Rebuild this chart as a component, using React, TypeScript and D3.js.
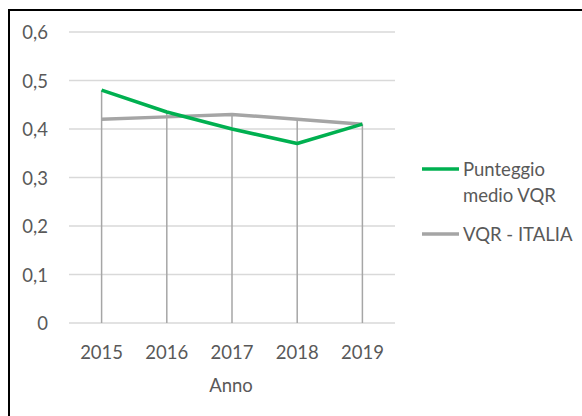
import * as d3 from "d3";

const years = ["2015", "2016", "2017", "2018", "2019"];
const punteggio = [0.48, 0.435, 0.4, 0.37, 0.41];
const italia = [0.42, 0.425, 0.43, 0.42, 0.41];
const yTicks = [0, 0.1, 0.2, 0.3, 0.4, 0.5, 0.6];

const W = 582;
const H = 416;
const FONT = "Lato, 'Open Sans', sans-serif";
const TEXT = "#595959";

export default function App() {
  const x = d3.scaleBand().domain(years).range([69, 395]);
  const y = d3.scaleLinear().domain([0, 0.6]).range([323, 32]);
  const cx = (yr: string) => (x(yr) ?? 0) + x.bandwidth() / 2;

  const line = d3
    .line<number>()
    .x((_, i) => cx(years[i]))
    .y((d) => y(d));

  const fmt = (v: number) => (v === 0 ? "0" : d3.format(".1f")(v).replace(".", ","));

  return (
    <svg
      width={W}
      height={H}
      style={{ position: "absolute", left: 0, top: 0, background: "#fff" }}
      fontFamily={FONT}
    >
      {/* chart frame, only top and left edges fall inside the picture */}
      <line x1={8} x2={W} y1={10} y2={10} stroke="#000" strokeWidth={2} />
      <line x1={9} x2={9} y1={9} y2={H} stroke="#000" strokeWidth={2} />

      {yTicks.map((t) => (
        <g key={t}>
          <line x1={69} x2={395} y1={y(t)} y2={y(t)} stroke="#d9d9d9" strokeWidth={1.3} />
          <text
            x={48}
            y={y(t)}
            textAnchor="end"
            dominantBaseline="central"
            fontSize={18.5}
            fill={TEXT}
          >
            {fmt(t)}
          </text>
        </g>
      ))}

      {/* drop lines */}
      {years.map((yr, i) => (
        <line
          key={yr}
          x1={cx(yr)}
          x2={cx(yr)}
          y1={y(Math.max(punteggio[i], italia[i]))}
          y2={y(0)}
          stroke="#a6a6a6"
          strokeWidth={1.5}
        />
      ))}

      <path d={line(italia) ?? ""} fill="none" stroke="#a5a5a5" strokeWidth={3.5} strokeLinejoin="round" />
      <path d={line(punteggio) ?? ""} fill="none" stroke="#00b050" strokeWidth={3.5} strokeLinejoin="round" />

      {years.map((yr) => (
        <text
          key={yr}
          x={cx(yr)}
          y={352}
          textAnchor="middle"
          dominantBaseline="central"
          fontSize={18.5}
          fill={TEXT}
        >
          {yr}
        </text>
      ))}

      <text x={231} y={385} textAnchor="middle" dominantBaseline="central" fontSize={18.5} fill={TEXT}>
        Anno
      </text>

      {/* legend */}
      <line x1={422} x2={459} y1={169} y2={169} stroke="#00b050" strokeWidth={3.5} />
      <text x={463} y={169} dominantBaseline="central" fontSize={18.5} fill={TEXT}>
        Punteggio
      </text>
      <text x={463} y={195} dominantBaseline="central" fontSize={18.5} fill={TEXT}>
        medio VQR
      </text>
      <line x1={422} x2={459} y1={234} y2={234} stroke="#a5a5a5" strokeWidth={3.5} />
      <text x={463} y={234} dominantBaseline="central" fontSize={18.5} fill={TEXT}>
        VQR - ITALIA
      </text>
    </svg>
  );
}
